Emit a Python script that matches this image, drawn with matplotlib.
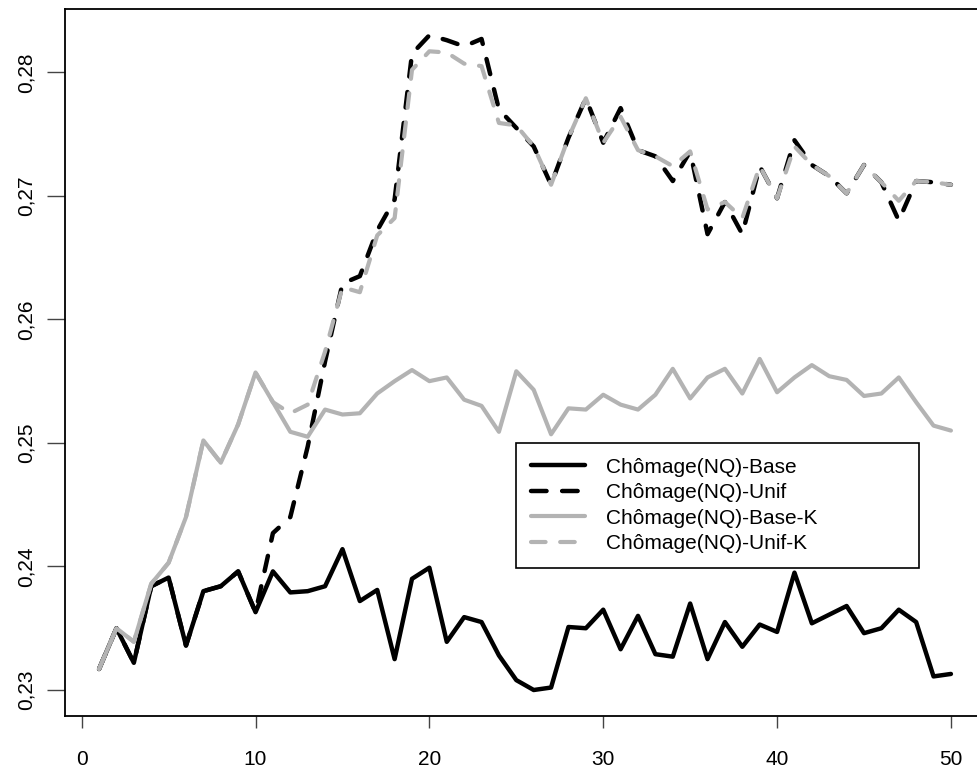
import numpy as np
import matplotlib
matplotlib.use("Agg")
import matplotlib.pyplot as plt

# periods
periods = list(range(1, 51))

# Chômage(NQ)-Base
base = [0.2317, 0.2350, 0.2322, 0.2384, 0.2391, 0.2336, 0.2380, 0.2384, 0.2396, 0.2363,
        0.2396, 0.2379, 0.2380, 0.2384, 0.2414, 0.2372, 0.2381, 0.2325, 0.2390, 0.2399,
        0.2339, 0.2359, 0.2355, 0.2328, 0.2308, 0.2300, 0.2302, 0.2351, 0.2350, 0.2365,
        0.2333, 0.2360, 0.2329, 0.2327, 0.2370, 0.2325, 0.2355, 0.2335, 0.2353, 0.2347,
        0.2395, 0.2354, 0.2361, 0.2368, 0.2346, 0.2350, 0.2365, 0.2355, 0.2311, 0.2313]

# Chômage(NQ)-Unif (same as Base until period 10)
unif = base[:10] + [
        0.2427, 0.2440, 0.2497, 0.2566, 0.2629, 0.2635, 0.2672, 0.2697, 0.2815, 0.2830,
        0.2826, 0.2821, 0.2827, 0.2770, 0.2755, 0.2740, 0.2709, 0.2747, 0.2779, 0.2743,
        0.2771, 0.2737, 0.2732, 0.2712, 0.2736, 0.2669, 0.2695, 0.2669, 0.2724, 0.2698,
        0.2745, 0.2725, 0.2716, 0.2702, 0.2725, 0.2711, 0.2680, 0.2712, 0.2711, 0.2709]

# Chômage(NQ)-Base-K
base_k = [0.2317, 0.2350, 0.2339, 0.2386, 0.2403, 0.2440, 0.2502, 0.2484, 0.2515, 0.2557,
          0.2533, 0.2509, 0.2505, 0.2527, 0.2523, 0.2524, 0.2540, 0.2550, 0.2559, 0.2550,
          0.2553, 0.2535, 0.2530, 0.2509, 0.2558, 0.2543, 0.2507, 0.2528, 0.2527, 0.2539,
          0.2531, 0.2527, 0.2539, 0.2560, 0.2536, 0.2553, 0.2560, 0.2540, 0.2568, 0.2541,
          0.2553, 0.2563, 0.2554, 0.2551, 0.2538, 0.2540, 0.2553, 0.2533, 0.2514, 0.2510]

# Chômage(NQ)-Unif-K (same as Base-K until period 10)
unif_k = base_k[:10] + [
          0.2533, 0.2524, 0.2531, 0.2574, 0.2626, 0.2622, 0.2668, 0.2682, 0.2802, 0.2817,
          0.2816, 0.2807, 0.2805, 0.2759, 0.2757, 0.2740, 0.2709, 0.2747, 0.2779, 0.2743,
          0.2764, 0.2737, 0.2732, 0.2724, 0.2736, 0.2689, 0.2695, 0.2682, 0.2724, 0.2698,
          0.2740, 0.2725, 0.2716, 0.2702, 0.2725, 0.2711, 0.2696, 0.2712, 0.2711, 0.2709]

labels = ["Chômage(NQ)-Base", "Chômage(NQ)-Unif", "Chômage(NQ)-Base-K", "Chômage(NQ)-Unif-K"]
xticks = [0, 10, 20, 30, 40, 50]
yticks = [0.23, 0.24, 0.25, 0.26, 0.27, 0.28]

plt.rcParams['font.family'] = ['Liberation Sans', 'DejaVu Sans']

GRAY = '#b3b3b3'
fig = plt.figure(figsize=(9.78, 7.72), dpi=100)
# axes box runs a little past the right edge, like the cropped original
ax = fig.add_axes([65 / 978, 56.3 / 772, 920 / 978, 706.4 / 772])

common = dict(solid_capstyle='round', dash_capstyle='round', solid_joinstyle='round',
              dash_joinstyle='round')
ax.plot(periods, base, color='black', lw=3.2, label=labels[0], **common)
ax.plot(periods, unif, color='black', lw=3.2, dashes=(3.5, 3.5), label=labels[1], **common)
ax.plot(periods, base_k, color=GRAY, lw=3.0, label=labels[2], **common)
ax.plot(periods, unif_k, color=GRAY, lw=3.0, dashes=(3.5, 3.5), label=labels[3], **common)

ax.set_xlim(-0.96, 51.96)
ax.set_ylim(0.22792, 0.28510)
ax.set_xticks(xticks)
ax.set_xticklabels([str(t) for t in xticks])
ax.set_yticks(yticks)
ax.set_yticklabels([f"{t:.2f}".replace('.', ',') for t in yticks],
                   rotation=90, va='center')

for sp in ax.spines.values():
    sp.set_linewidth(1.3)
    sp.set_color('black')

ax.tick_params(axis='y', length=13, width=1, color='#444444', pad=8, labelsize=15)
ax.tick_params(axis='x', length=8.6, width=1, color='#444444', pad=16, labelsize=15)

leg = ax.legend(loc='upper left', bbox_to_anchor=(516 / 978, 205 / 772, 403 / 978, 124 / 772),
                bbox_transform=fig.transFigure, mode='expand', borderaxespad=0,
                fontsize=15, handlelength=2.6, handletextpad=1.0, borderpad=0.7,
                labelspacing=0.31, fancybox=False, framealpha=1, edgecolor='black')
leg.get_frame().set_linewidth(1.2)

fig.savefig('out.png', dpi=100)
